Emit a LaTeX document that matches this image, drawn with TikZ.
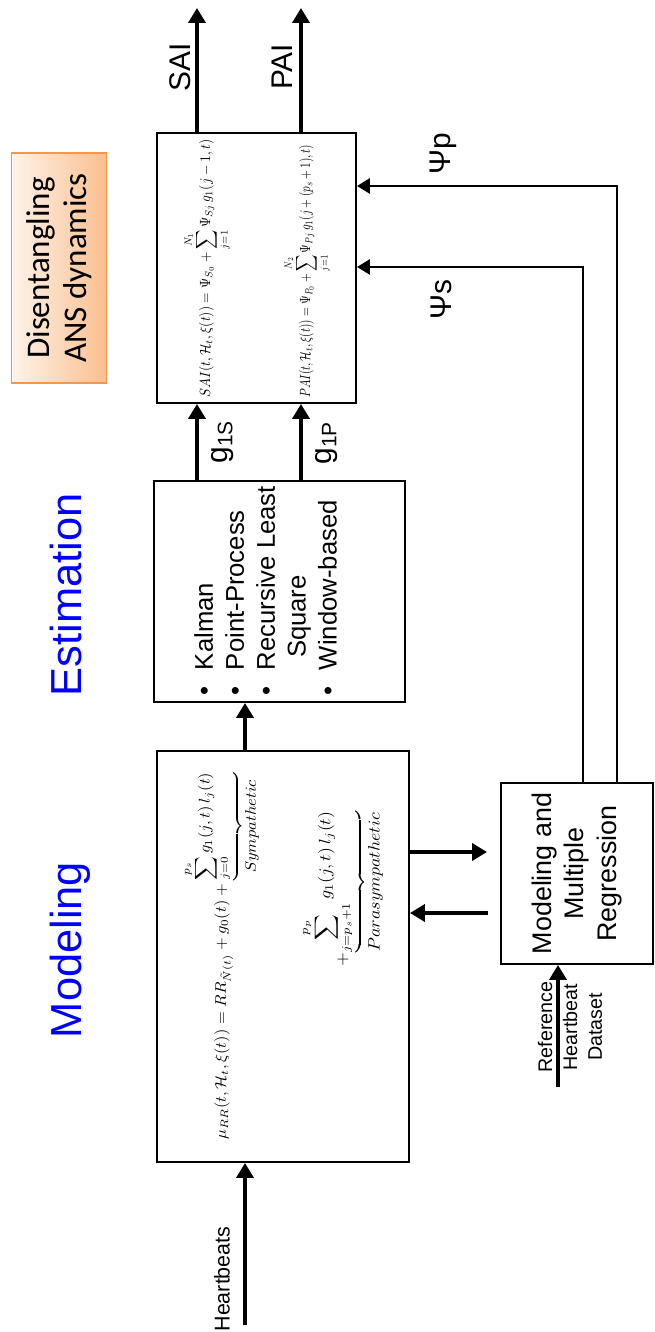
\documentclass[tikz,border=0pt]{standalone}
\usepackage[no-math]{fontspec}
\setmainfont{Liberation Sans}
\newfontfamily\calibri{Carlito}
\usepackage{amsmath}
\usepackage{graphicx}
\usetikzlibrary{arrows.meta,calc,positioning}

\definecolor{ansorange}{RGB}{250,191,143}
\definecolor{anslight}{RGB}{254,243,234}
\definecolor{ansedge}{RGB}{247,150,70}
\newcommand{\px}{0.2mm}

\tikzset{
  block/.style={draw, line width=1.1pt, inner sep=0pt},
  sig/.style={line width=2.2pt, -{Triangle[length=3mm,width=3.4mm]}},
  fb/.style={line width=1.6pt, -{Triangle[length=2.6mm,width=3mm]}},
  heading/.style={text=blue, font=\fontsize{24.7}{29}\selectfont, anchor=base},
  lbl/.style={font=\fontsize{17}{20}\selectfont},
  ansbox/.style={draw=ansedge, line width=0.8pt, left color=anslight, right color=ansorange,
    align=center, font=\calibri\fontsize{18.8}{21}\selectfont},
  eq/.style={anchor=west, inner sep=0pt},
}

\begin{document}
\begin{tikzpicture}[x=\px, y=\px, rotate=90, transform shape]
    \useasboundingbox (0,0) rectangle (1332,655);

    % titles
    \node[heading] (modtitle) at (382,573) {Modeling};
    \node[heading] (esttitle) at (737,573) {Estimation};
    \node[ansbox, minimum width=230*\px, minimum height=95*\px] (ans) at (1064,596) {Disentangling\\ANS dynamics};

    % blocks
    \node[block, minimum width=411*\px, minimum height=252*\px] (mod) at (375.5,372) {};
    \node[block, minimum width=221*\px, minimum height=251*\px] (est) at (740.5,375.5) {};
    \node[block, minimum width=270*\px, minimum height=199*\px] (idx) at (1064,398.5) {};
    \node[block, minimum width=181*\px, minimum height=152*\px, align=center,
          font=\fontsize{15.3}{18.7}\selectfont] (reg) at (458.5,78) {Modeling and\\Multiple\\Regression};

    % model equation
    \node[eq] (mueq) at (192,433)
        {\resizebox*{73.4mm}{15.4mm}{$\mu_{RR}(t,\mathcal{H}_t,\xi(t)) = RR_{\tilde{N}(t)} + g_0(t) + \vcenter{\hbox{$\displaystyle\underbrace{\sum_{j=0}^{p_s} g_1(j,t)\,l_j(t)}_{\displaystyle Sympathetic}$}}$}};
    \node[eq] (paraeq) at (365,312)
        {\resizebox*{31mm}{16.6mm}{$+\vcenter{\hbox{$\displaystyle\underbrace{\sum_{j=p_s+1}^{p_p} g_1(j,t)\,l_j(t)}_{\displaystyle Parasympathetic}$}}$}};

    % estimation methods
    \node[anchor=north west, align=left, inner sep=0pt, font=\fontsize{14.6}{17.6}\selectfont] (estlist) at (636,461)
        {\textbullet\hspace{0.65em}Kalman\\
         \textbullet\hspace{0.65em}Point-Process\\
         \textbullet\hspace{0.65em}Recursive Least\\
         \phantom{\textbullet}\hspace{1.12em}Square\\
         \textbullet\hspace{0.65em}Window-based};

    % index equations
    \node[eq] (saieq) at (934,448)
        {\resizebox*{51.6mm}{9.6mm}{$SAI(t,\mathcal{H}_t,\xi(t)) = \Psi_{S_0} + \displaystyle\sum_{j=1}^{N_1} \Psi_{Sj}\, g_1(j-1,t)$}};
    \node[eq] (paieq) at (934,348)
        {\resizebox*{50.6mm}{9.6mm}{$PAI(t,\mathcal{H}_t,\xi(t)) = \Psi_{P_0} + \displaystyle\sum_{j=1}^{N_2} \Psi_{Pj}\, g_1(j+(p_s+1),t)$}};

    % main signal path
    \coordinate (hbin) at (7,410);
    \draw[sig] (hbin) -- (hbin -| mod.west);
    \node[font=\fontsize{12.2}{14}\selectfont] (hblbl) at (53,433) {Heartbeats};
    \draw[sig] (mod.east |- hbin) -- (est.west |- hbin);

    \coordinate (gs) at (0,458);
    \coordinate (gp) at (0,354);
    \coordinate (outend) at (1324,0);
    \draw[sig] (est.east |- gs) -- (idx.west |- gs);
    \draw[sig] (est.east |- gp) -- (idx.west |- gp);
    \node[lbl] (g1s) at (890,432) {g\textsubscript{1S}};
    \node[lbl] (g1p) at (889,328) {g\textsubscript{1P}};

    \draw[sig] (idx.east |- gs) -- (outend |- gs);
    \draw[sig] (idx.east |- gp) -- (outend |- gp);
    \node[lbl] (sailbl) at (1265,475) {SAI};
    \node[lbl] (pailbl) at (1265,373) {PAI};

    % regression loop
    \coordinate (down) at (480,0);
    \coordinate (up) at (419,0);
    \draw[sig, shorten >=2.6mm] (down |- mod.south) -- (down |- reg.north);
    \draw[sig, shorten <=2.4mm] (up |- reg.north) -- (up |- mod.south);

    \coordinate (refin) at (245,97);
    \draw[sig] (refin) -- (refin -| reg.west);
    \node[align=center, font=\fontsize{11.2}{14.2}\selectfont] (reflbl) at (305,85) {Reference\\Heartbeat\\Dataset};

    % feedback of coefficients
    \coordinate (psis) at (1065,72);
    \coordinate (psip) at (1146,38);
    \draw[fb] (reg.east |- psis) -- (psis) -- (idx.south -| psis);
    \draw[fb] (reg.east |- psip) -- (psip) -- (idx.south -| psip);
    \node[lbl] (psislbl) at (1032,214) {Ψs};
    \node[lbl] (psiplbl) at (1178,212) {Ψp};
\end{tikzpicture}
\end{document}
